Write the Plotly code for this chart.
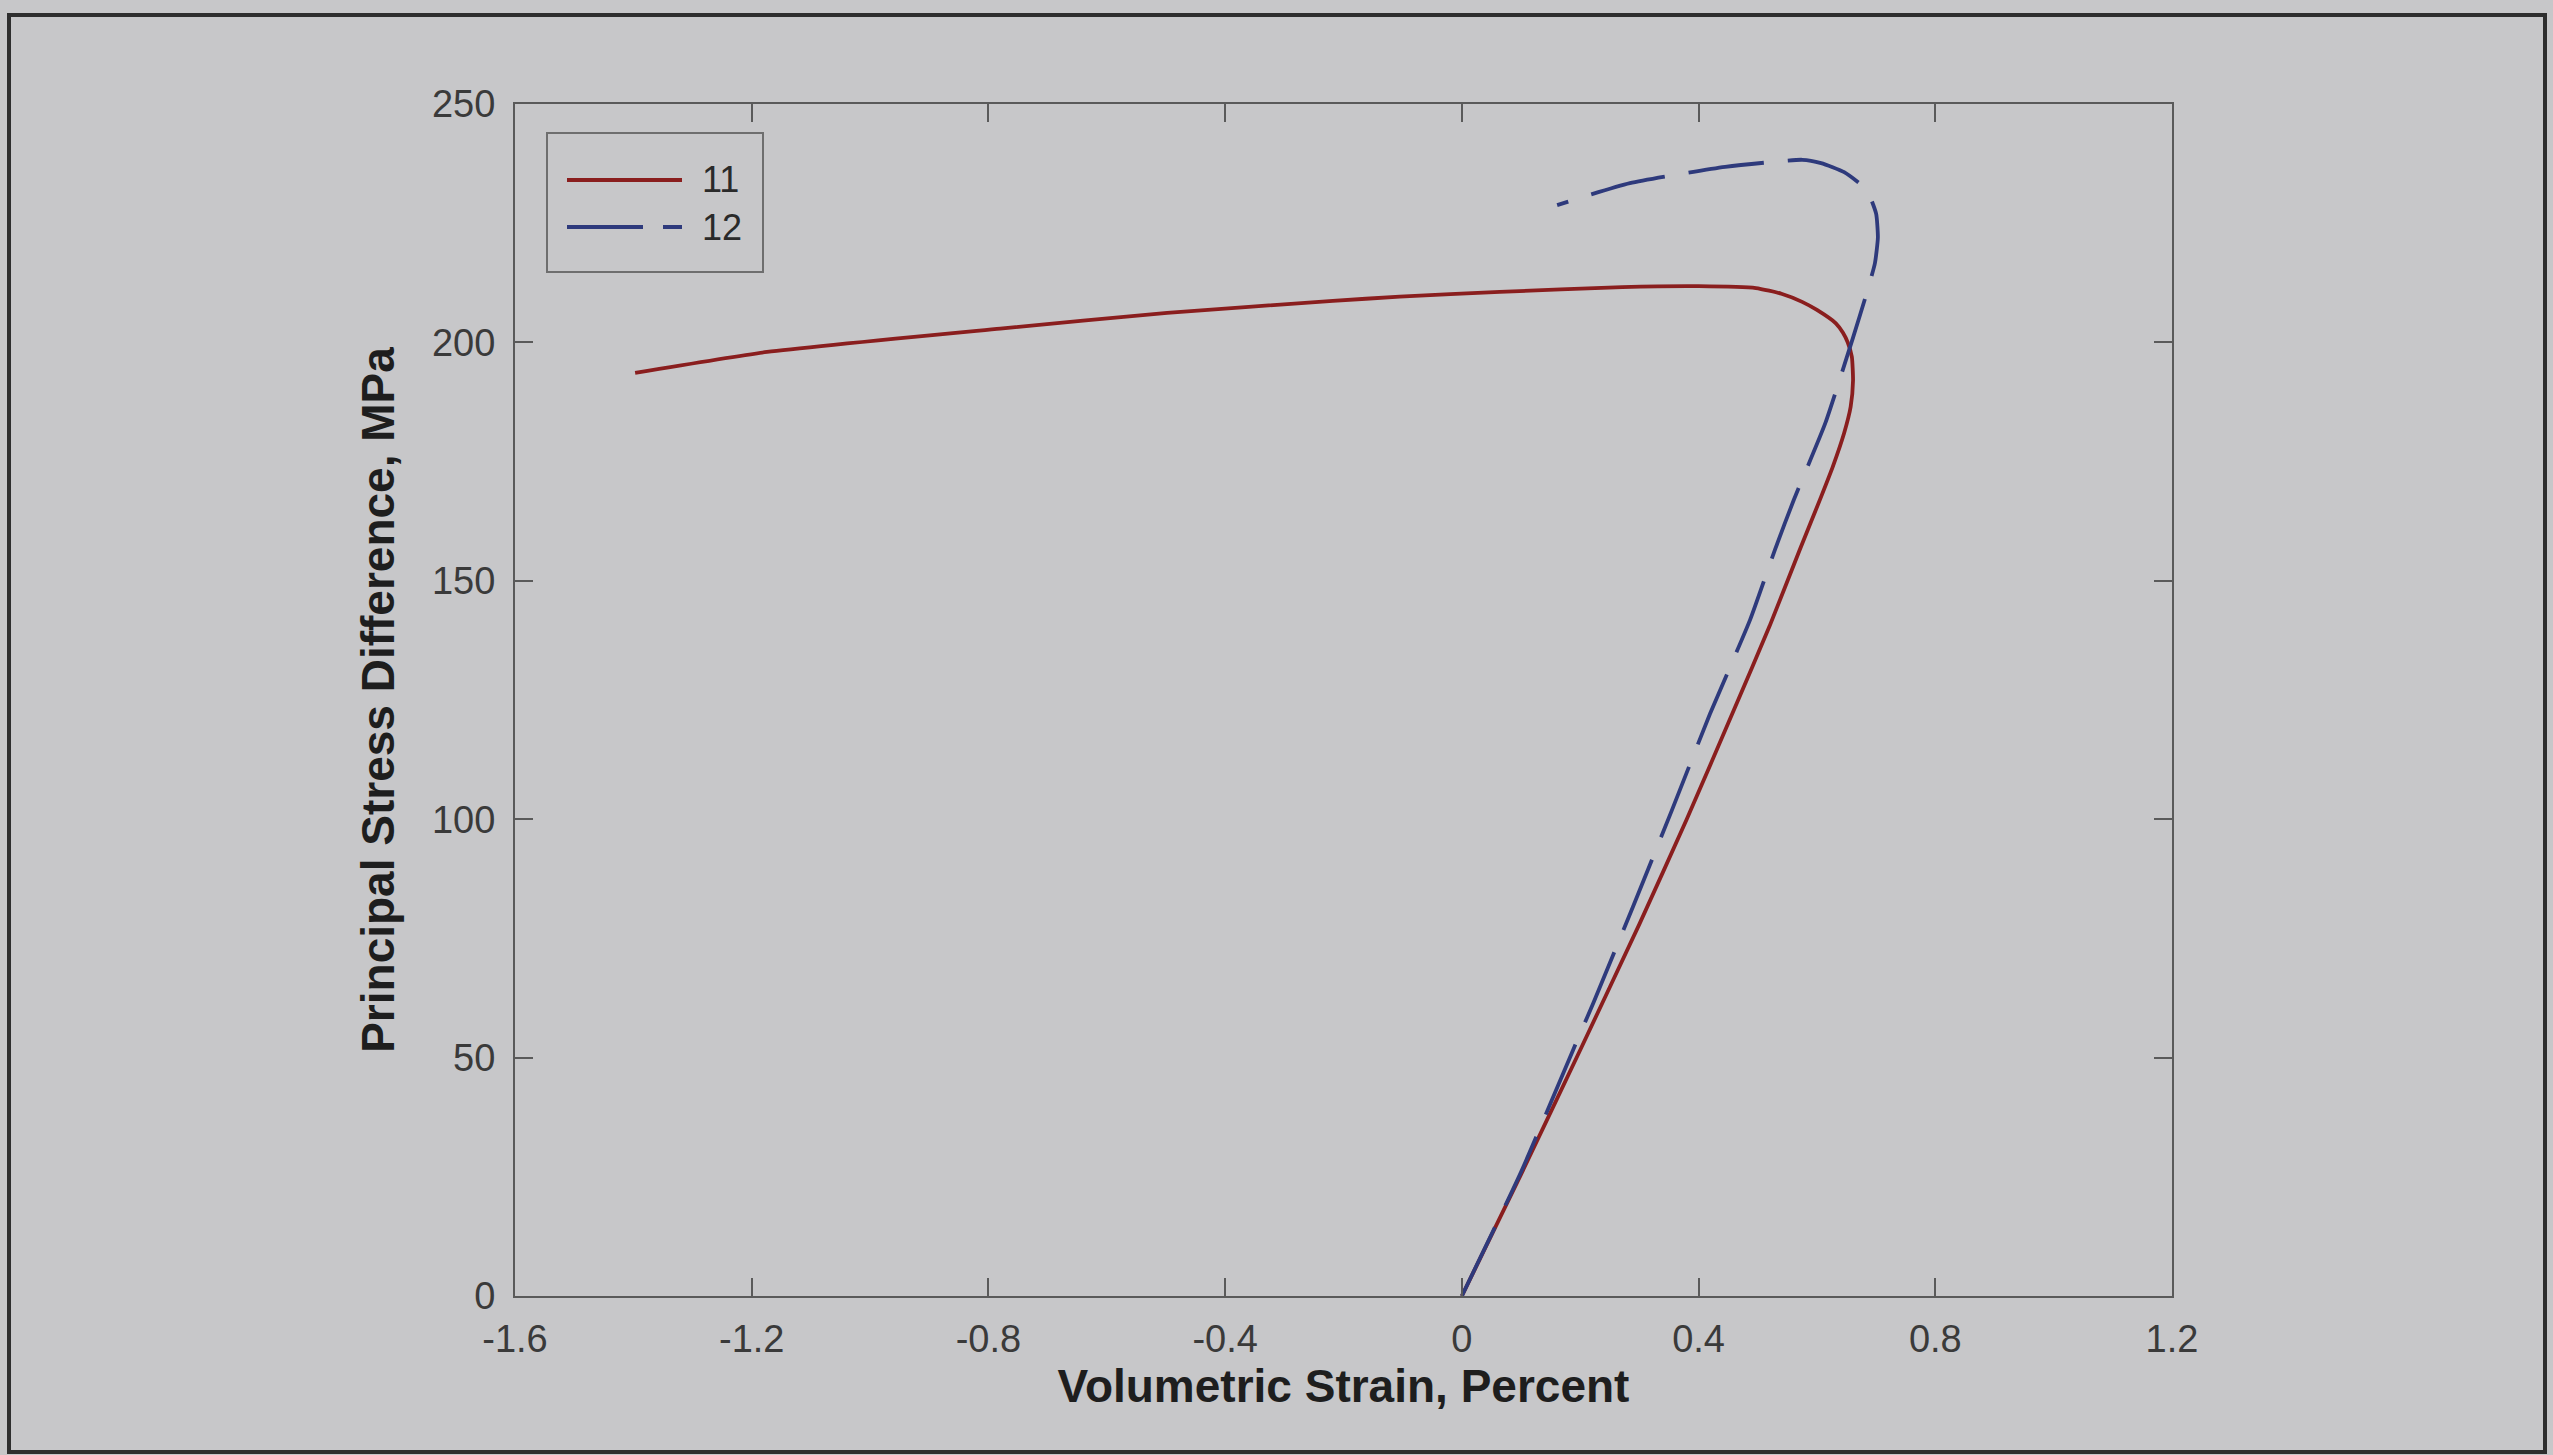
import plotly.graph_objects as go

# ---- data ----
strain_11 = [0.0, 0.10, 0.20, 0.30, 0.38, 0.46, 0.52, 0.571, 0.607, 0.627, 0.646,
             0.657, 0.661, 0.659, 0.652, 0.644, 0.632, 0.60, 0.575, 0.54, 0.497, 0.40,
             0.271, 0.064, -0.105, -0.218, -0.498, -0.78, -1.174, -1.397]
stress_11 = [0.0, 25.5, 51.6, 78.0, 100.0, 123.0, 140.5, 156.5, 167.6, 174.0, 181.0,
             186.5, 192.0, 197.0, 200.0, 202.0, 204.0, 206.8, 208.5, 210.2, 211.4, 211.8,
             211.6, 210.6, 209.6, 208.7, 206.2, 202.9, 198.0, 193.6]

strain_12 = [0.0, 0.10, 0.188, 0.222, 0.289, 0.355, 0.419, 0.487, 0.529, 0.561,
             0.614, 0.661, 0.684, 0.698, 0.703, 0.700, 0.684, 0.646, 0.607, 0.575, 0.445,
             0.284, 0.161]
stress_12 = [0.0, 26.0, 51.6, 61.4, 81.6, 101.9, 122.0, 141.8, 156.5, 167.0,
             183.0, 201.0, 210.3, 216.6, 222.0, 227.0, 232.0, 235.7, 237.6, 238.3, 236.8,
             233.4, 228.8]

series_names = ["11", "12"]
x_ticks = [-1.6, -1.2, -0.8, -0.4, 0, 0.4, 0.8, 1.2]
x_tick_labels = ["-1.6", "-1.2", "-0.8", "-0.4", "0", "0.4", "0.8", "1.2"]
y_ticks = [0, 50, 100, 150, 200, 250]
y_tick_labels = ["0", "50", "100", "150", "200", "250"]

# ---- styling ----
BG = "#c7c7c9"
RED = "#8a1e1e"
BLUE = "#2e3a7c"
AXIS = "#5a5a5a"
FONT = "Liberation Sans, Arial, sans-serif"
DASH = "76px,24px"

W, H = 2553, 1455
L, R, T, B = 515, 2553 - 2172, 104, 1455 - 1296
PW, PH = W - L - R, H - T - B


def px(xp):
    return (xp - L) / PW


def py(yp):
    return (H - B - yp) / PH


fig = go.Figure()
fig.add_trace(go.Scatter(x=strain_11, y=stress_11, mode="lines", name=series_names[0],
                         line=dict(color=RED, width=3.8, shape="spline", smoothing=0.5),
                         showlegend=False))
fig.add_trace(go.Scatter(x=strain_12, y=stress_12, mode="lines", name=series_names[1],
                         line=dict(color=BLUE, width=3.8, dash=DASH, shape="spline", smoothing=0.5),
                         showlegend=False))

axis_common = dict(showline=True, linecolor=AXIS, linewidth=2, mirror="ticks",
                   ticks="inside", ticklen=18, tickwidth=2, tickcolor=AXIS,
                   showgrid=False, zeroline=False,
                   tickfont=dict(family=FONT, size=38, color="#3a3a3a"))

fig.update_xaxes(range=[-1.6, 1.2], tickvals=x_ticks, ticktext=x_tick_labels,
                 ticklabelstandoff=8,
                 title=dict(text="Volumetric Strain, Percent", standoff=10,
                            font=dict(family=FONT, size=46, color="#1e1e1e", weight="bold")),
                 **axis_common)
fig.update_yaxes(range=[0, 250], tickvals=y_ticks, ticktext=y_tick_labels,
                 ticklabelstandoff=10,
                 title=dict(text="Principal Stress Difference, MPa", standoff=23,
                            font=dict(family=FONT, size=46, color="#1e1e1e", weight="bold")),
                 **axis_common)

shapes = [
    # outer frame of the figure
    dict(type="rect", xref="paper", yref="paper", x0=px(9), x1=px(2545), y0=py(1452), y1=py(15),
         line=dict(color="#2e2e2e", width=4), layer="below"),
    # legend box
    dict(type="rect", xref="paper", yref="paper", x0=px(547), x1=px(763), y0=py(272), y1=py(133),
         line=dict(color="#6e6e6e", width=2), fillcolor=BG),
    # legend samples
    dict(type="line", xref="paper", yref="paper", x0=px(567), x1=px(682), y0=py(180), y1=py(180),
         line=dict(color=RED, width=3.8)),
    dict(type="line", xref="paper", yref="paper", x0=px(567), x1=px(682), y0=py(227), y1=py(227),
         line=dict(color=BLUE, width=3.8, dash="76px,20px")),
]
annotations = [
    dict(xref="paper", yref="paper", x=px(700), y=py(180), text=series_names[0], showarrow=False,
         xanchor="left", yanchor="middle", font=dict(family=FONT, size=36, color="#2a2a2a")),
    dict(xref="paper", yref="paper", x=px(700), y=py(227), text=series_names[1], showarrow=False,
         xanchor="left", yanchor="middle", font=dict(family=FONT, size=36, color="#2a2a2a")),
]

fig.update_layout(width=W, height=H, margin=dict(l=L, r=R, t=T, b=B, autoexpand=False),
                  paper_bgcolor=BG, plot_bgcolor=BG, shapes=shapes, annotations=annotations,
                  font=dict(family=FONT))

fig.write_html("out.html")
